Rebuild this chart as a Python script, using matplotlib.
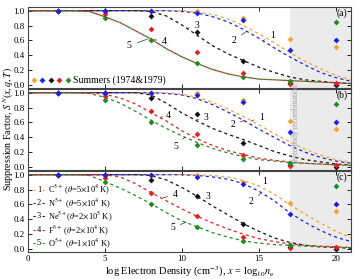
import numpy as np
import matplotlib
matplotlib.use("Agg")
from matplotlib import pyplot as plt

plt.rcParams['font.family'] = ['Liberation Serif', 'DejaVu Serif']
plt.rcParams['mathtext.fontset'] = 'stix'

# Summers (1974&1979) points, same in every panel
x_pts = [2, 5, 8, 11, 14, 17, 20]
summers_C = [1.0, 1.0, 1.0, 0.99, 0.90, 0.62, 0.51]
summers_N = [1.0, 1.0, 0.99, 0.97, 0.88, 0.47, 0.61]
summers_Ne = [1.0, 1.0, 0.93, 0.72, 0.33, 0.03, 0.0]
summers_F = [1.0, 0.96, 0.76, 0.44, 0.16, 0.01, 0.03]
summers_O = [1.0, 0.90, 0.61, 0.30, 0.11, 0.05, 0.85]

# suppression curves read at x = 0..21
x_curve = list(range(22))
curve_a = {
    'C':  [1.0]*11 + [0.98, 0.95, 0.89, 0.80, 0.69, 0.57, 0.44, 0.32, 0.22, 0.13, 0.07],
    'N':  [1.0]*10 + [0.99, 0.97, 0.92, 0.85, 0.75, 0.63, 0.50, 0.38, 0.27, 0.17, 0.10, 0.05],
    'Ne': [1.0]*8 + [0.99, 0.93, 0.81, 0.67, 0.53, 0.42, 0.33, 0.24, 0.17, 0.11, 0.07, 0.05, 0.03, 0.02],
    'F':  [1.0]*4 + [0.99, 0.92, 0.84, 0.73, 0.62, 0.49, 0.38, 0.29, 0.21, 0.15, 0.11, 0.08, 0.07, 0.06, 0.05, 0.04, 0.03, 0.02],
    'O':  [1.0]*4 + [0.99, 0.92, 0.84, 0.73, 0.62, 0.49, 0.38, 0.29, 0.21, 0.15, 0.11, 0.08, 0.07, 0.06, 0.05, 0.04, 0.03, 0.02],
}
curve_b = {
    'C':  [1.0]*10 + [0.98, 0.94, 0.87, 0.78, 0.68, 0.57, 0.45, 0.34, 0.24, 0.16, 0.10, 0.06],
    'N':  [1.0]*9 + [0.99, 0.97, 0.92, 0.84, 0.74, 0.63, 0.51, 0.40, 0.29, 0.20, 0.13, 0.08, 0.05],
    'Ne': [1.0]*8 + [0.97, 0.86, 0.73, 0.62, 0.52, 0.44, 0.37, 0.29, 0.21, 0.15, 0.10, 0.07, 0.04, 0.03],
    'F':  [1.0]*5 + [0.98, 0.93, 0.85, 0.73, 0.62, 0.49, 0.38, 0.29, 0.22, 0.17, 0.12, 0.09, 0.07, 0.05, 0.04, 0.03, 0.03],
    'O':  [1.0]*4 + [0.99, 0.94, 0.86, 0.75, 0.63, 0.52, 0.42, 0.33, 0.25, 0.19, 0.14, 0.10, 0.08, 0.06, 0.05, 0.04, 0.03, 0.02],
}
curve_c = {
    'C':  [1.0]*12 + [0.99, 0.97, 0.92, 0.85, 0.74, 0.60, 0.47, 0.35, 0.24, 0.15],
    'N':  [1.0]*11 + [0.99, 0.97, 0.94, 0.88, 0.78, 0.65, 0.49, 0.36, 0.25, 0.16, 0.10],
    'Ne': [1.0]*8 + [0.99, 0.93, 0.83, 0.71, 0.58, 0.46, 0.34, 0.24, 0.15, 0.09, 0.05, 0.03, 0.02, 0.01],
    'F':  [1.0]*6 + [0.97, 0.88, 0.76, 0.65, 0.54, 0.44, 0.35, 0.27, 0.20, 0.14, 0.10, 0.07, 0.05, 0.04, 0.03, 0.02],
    'O':  [1.0]*4 + [0.99, 0.91, 0.82, 0.72, 0.61, 0.49, 0.38, 0.30, 0.22, 0.16, 0.11, 0.08, 0.06, 0.05, 0.04, 0.03, 0.02, 0.02],
}

ions = ['C', 'N', 'Ne', 'F', 'O']
colors = {'C': '#f3a33c', 'N': '#1f1fe6', 'Ne': '#111111', 'F': '#e02424', 'O': '#1f8c1f'}
summers = {'C': summers_C, 'N': summers_N, 'Ne': summers_Ne, 'F': summers_F, 'O': summers_O}
legend_labels = [r'C$^{5+}$ ($\theta$=5$\times$10$^4$ K)',
                 r'N$^{5+}$ ($\theta$=5$\times$10$^4$ K)',
                 r'Ne$^{5+}$($\theta$=2$\times$10$^5$ K)',
                 r'F$^{5+}$ ($\theta$=2$\times$10$^4$ K)',
                 r'O$^{5+}$ ($\theta$=1$\times$10$^4$ K)']

# curve number labels: (text x, text y, curve x, curve y)
tags_a = [(15.9, 0.66, 15.3, 0.60), (13.4, 0.60, 14.2, 0.72), (11.0, 0.80, 10.3, 0.76),
          (8.9, 0.59, 8.2, 0.61), (6.6, 0.53, 7.8, 0.62)]
tags_b = [(15.2, 0.67, 14.5, 0.62), (13.3, 0.57, 14.1, 0.63), (11.6, 0.67, 10.9, 0.63),
          (9.1, 0.69, 8.6, 0.67), (9.6, 0.28, 10.2, 0.40)]
tags_c = [(15.4, 0.91, 14.9, 0.85), (14.5, 0.64, 15.2, 0.76), (11.7, 0.71, 11.1, 0.68),
          (9.6, 0.73, 8.8, 0.69), (9.4, 0.29, 10.3, 0.36)]

fig = plt.figure(figsize=(3.54, 2.79), dpi=100)
bottoms = [0.6846, 0.3907, 0.0968]
curves = [curve_a, curve_b, curve_c]
tags = [tags_a, tags_b, tags_c]
names = ['(a)', '(b)', '(c)']

for k in range(3):
    ax = fig.add_axes([0.078, bottoms[k], 0.914, 0.2903])
    ax.axvspan(17, 21, color='#ebebeb', lw=0, zorder=0)
    for i, ion in enumerate(ions):
        off = 2.5 if ion in ('O', 'N') else 0
        ax.plot(x_curve, curves[k][ion], color=colors[ion], lw=0.9,
                linestyle=(off, (2.5, 2.5)), zorder=2)
    for ion in ['C', 'Ne', 'F', 'O', 'N']:
        ax.plot(x_pts, summers[ion], 'D', color=colors[ion], ms=3.0, mew=0, zorder=3)
    for j, (tx, ty, cx, cy) in enumerate(tags[k]):
        ax.annotate(str(j + 1), xy=(cx, cy), xytext=(tx, ty), fontsize=7,
                    ha='center', va='center',
                    arrowprops=dict(arrowstyle='-', lw=0.5, color='#333333',
                                    shrinkA=2, shrinkB=0))
    ax.text(20.75, 0.97, names[k], fontsize=7, ha='right', va='center')
    ax.set_xlim(0, 21)
    ax.set_ylim(-0.04, 1.05)
    ax.set_xticks([0, 5, 10, 15, 20])
    ax.set_yticks([0.0, 0.2, 0.4, 0.6, 0.8, 1.0])
    ax.set_yticklabels(['0.0', '0.2', '0.4', '0.6', '0.8', '1.0'])
    ax.tick_params(direction='in', length=3, width=0.6, labelsize=6.5, top=True, right=True, pad=2)
    for s in ax.spines.values():
        s.set_color('#444444')
        s.set_linewidth(0.8)
    if k < 2:
        ax.tick_params(labelbottom=False)
    if k == 0:
        # Summers legend
        for j, ion in enumerate(ions):
            ax.plot([0.4 + 0.55 * j], [0.07], 'D', color=colors[ion], ms=3.0, mew=0)
        ax.text(2.95, 0.07, 'Summers (1974&1979)', fontsize=7, va='center')
    if k == 1:
        ax.text(17.45, 0.58, 'three-body recombination', rotation=90, fontsize=5.5,
                color='#a0a0a0', ha='center', va='center')
    if k == 2:
        ys = [0.80, 0.62, 0.44, 0.26, 0.08]
        for j, ion in enumerate(ions):
            ax.plot([0.33, 0.55], [ys[j], ys[j]], color=colors[ion], lw=0.8, ls=(0, (2, 1.5)))
            ax.plot([0.95, 1.2], [ys[j], ys[j]], color=colors[ion], lw=0.8, ls=(0, (2, 1.5)))
            ax.text(0.75, ys[j], str(j + 1), fontsize=6, ha='center', va='center')
            ax.text(1.3, ys[j], legend_labels[j], fontsize=6, va='center')
        ax.set_xlabel(r'log Electron Density (cm$^{-3}$), $x$ = log$_{10}$$n_{\rm e}$',
                      fontsize=7.5, labelpad=1)

fig.text(0.002, 0.54, r'Suppression Factor, $S^{N}(x,q,T)$', fontsize=7.2,
         rotation=90, ha='left', va='center')

fig.savefig('out.png', dpi=100)
